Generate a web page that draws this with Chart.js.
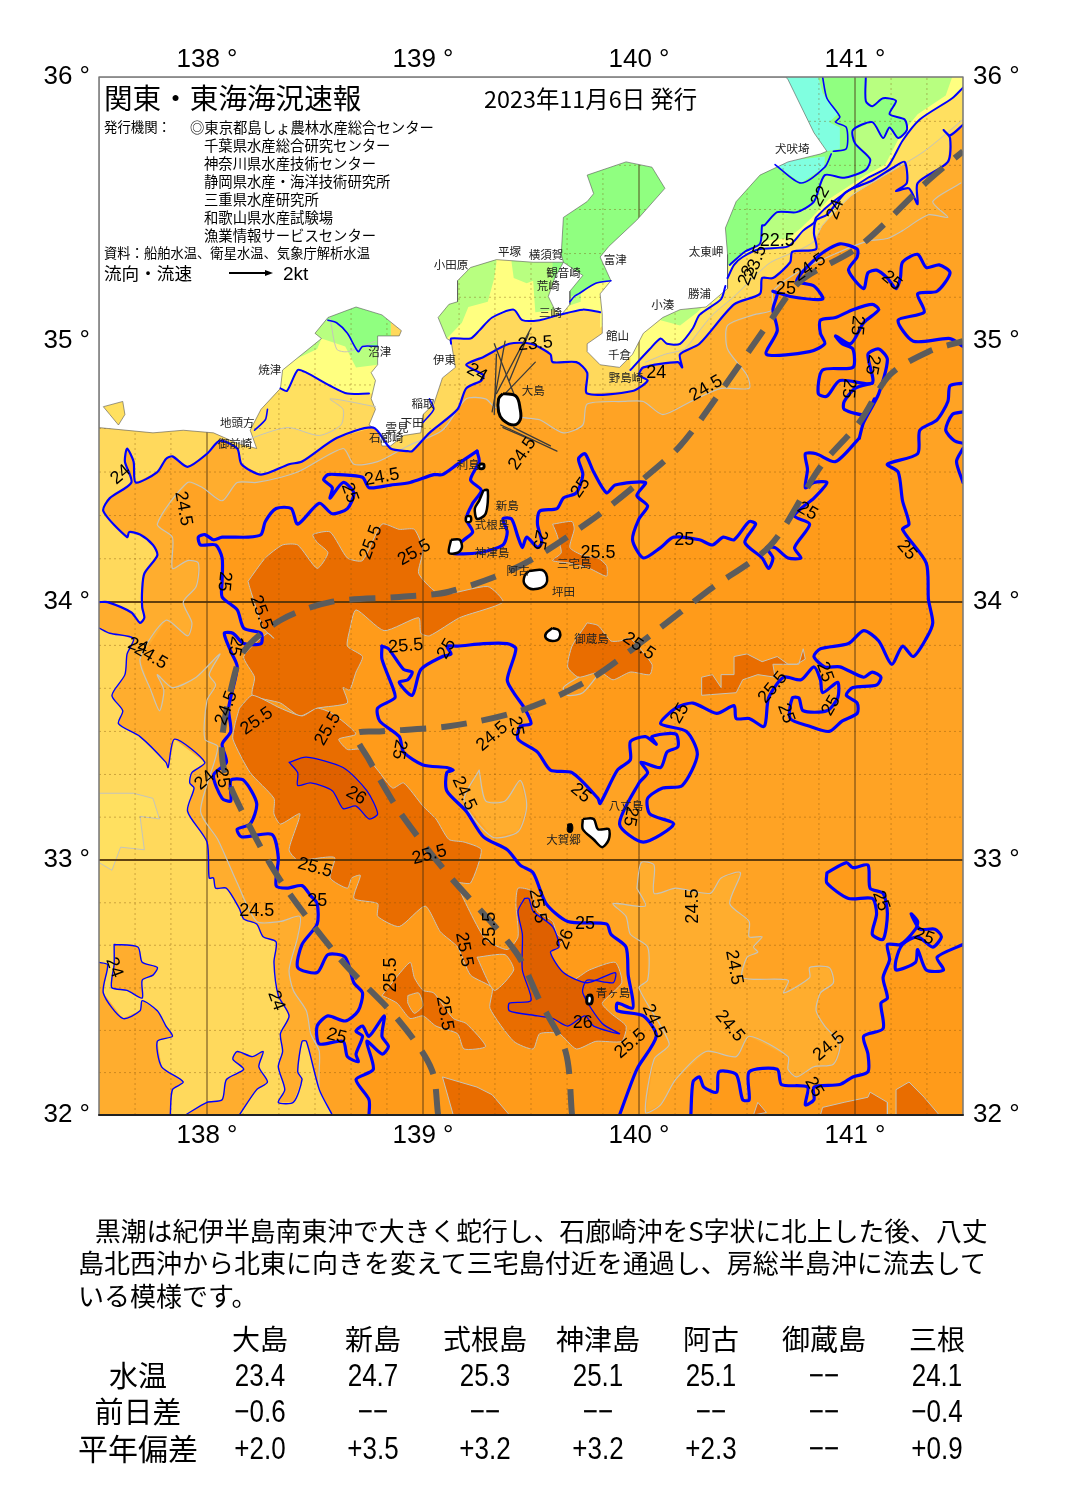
<!DOCTYPE html>
<html lang="ja">
<head>
<meta charset="utf-8">
<title>関東・東海海況速報</title>
<script src="https://cdn.jsdelivr.net/npm/chart.js@4/dist/chart.umd.js"></script>
<style>
  html, body { margin: 0; background: #fff; }
  #page { position: relative; width: 1065px; height: 1505px; overflow: hidden; font-family: "Noto Sans CJK JP", sans-serif; color: #000; }
  #chart { position: absolute; left: 0; top: 0; }
  .t { position: absolute; white-space: nowrap; line-height: 1; }
  .c { transform: translateX(-50%); }
  .n { font-family: "Liberation Sans", sans-serif; transform: translateX(-50%) scaleY(1.22); }
</style>
</head>
<body>
<div id="page">
  <canvas id="chart" width="1065" height="1505"></canvas>
  <div id="overlay"></div>
</div>
<script>
// axis ticks and graticule, degrees
const lonTicks = [138, 139, 140, 141]
const latTicks = [32, 33, 34, 35, 36]
const gridLonMajor = [138, 139, 140, 141]
const gridLatMajor = [33, 34]
const gridLonMinor = [137.667, 137.833, 138.167, 138.333, 138.5, 138.667, 138.833, 139.167, 139.333, 139.5, 139.667, 139.833, 140.167, 140.333, 140.5, 140.667, 140.833, 141.167, 141.333]
const gridLatMinor = [32.167, 32.333, 32.5, 32.667, 32.833, 33.167, 33.333, 33.5, 33.667, 33.833, 34.167, 34.333, 34.5, 34.667, 34.833, 35.167, 35.333, 35.5, 35.667, 35.833]

// coast, [lon, lat]
const landCoast = [[137.5,36],[140.68,36],[140.69,35.99],[140.81,35.79],[140.87,35.72],[140.84,35.71],[140.69,35.68],[140.56,35.63],[140.45,35.53],[140.40,35.43],[140.41,35.33],[140.41,35.20],[140.31,35.13],[140.19,35.12],[140.11,35.09],[140.02,35.03],[139.97,34.95],[139.91,34.90],[139.82,34.91],[139.76,34.96],[139.76,34.99],[139.83,35.03],[139.83,35.10],[139.82,35.18],[139.87,35.23],[139.82,35.32],[139.86,35.36],[139.99,35.46],[140.12,35.58],[140.06,35.66],[139.94,35.68],[139.76,35.63],[139.79,35.56],[139.76,35.53],[139.65,35.47],[139.64,35.33],[139.65,35.30],[139.74,35.25],[139.68,35.19],[139.68,35.14],[139.64,35.10],[139.61,35.12],[139.58,35.17],[139.61,35.24],[139.65,35.30],[139.51,35.30],[139.34,35.31],[139.22,35.28],[139.16,35.23],[139.16,35.15],[139.12,35.14],[139.07,35.09],[139.11,35.01],[139.13,35.00],[139.15,34.90],[139.09,34.86],[139.05,34.76],[139,34.72],[138.99,34.65],[138.91,34.64],[138.85,34.60],[138.81,34.60],[138.79,34.66],[138.75,34.68],[138.78,34.74],[138.76,34.78],[138.78,34.85],[138.76,34.88],[138.79,34.91],[138.79,35.02],[138.89,35.02],[138.90,35.04],[138.81,35.10],[138.69,35.13],[138.56,35.09],[138.50,35.03],[138.53,35.01],[138.44,34.95],[138.35,34.89],[138.34,34.82],[138.25,34.74],[138.20,34.66],[138.23,34.59],[138.14,34.61],[138.03,34.65],[137.89,34.66],[137.75,34.65],[137.5,34.67]]
const hamanaLake = [[137.52,34.75],[137.61,34.77],[137.62,34.72],[137.59,34.68],[137.55,34.72]]
const oshima = [[139.37,34.80],[139.43,34.79],[139.45,34.74],[139.45,34.70],[139.42,34.68],[139.37,34.70],[139.35,34.73],[139.35,34.78]]
const toshima = [[139.26,34.53],[139.28,34.53],[139.28,34.515],[139.26,34.515]]
const niijima = [[139.28,34.43],[139.30,34.43],[139.29,34.34],[139.25,34.32],[139.24,34.36],[139.26,34.39]]
const shikine = [[139.20,34.33],[139.22,34.33],[139.22,34.31],[139.20,34.31]]
const kozu = [[139.13,34.24],[139.17,34.24],[139.18,34.21],[139.16,34.19],[139.12,34.19]]
const miyake = [[139.49,34.12],[139.56,34.12],[139.57,34.07],[139.51,34.05],[139.47,34.07],[139.47,34.10]]
const mikura = [[139.60,33.90],[139.63,33.89],[139.63,33.86],[139.60,33.85],[139.57,33.86],[139.57,33.88]]
const hachijo = [[139.74,33.16],[139.79,33.16],[139.81,33.12],[139.86,33.12],[139.86,33.08],[139.83,33.05],[139.79,33.08],[139.74,33.12]]
const kojima = [[139.67,33.14],[139.69,33.14],[139.69,33.11],[139.67,33.11]]
const aogashima = [[139.76,32.47],[139.78,32.47],[139.78,32.44],[139.76,32.44]]

// 24 degree line
const edge24Top = [[137.5,34.0],[137.54,34.0],[137.65,33.96],[137.69,33.92],[137.71,33.94],[137.70,33.98],[137.70,34.05],[137.71,34.11],[137.77,34.18],[137.75,34.22],[137.69,34.26],[137.64,34.27],[137.63,34.25],[137.52,34.35],[137.55,34.40],[137.65,34.46],[137.62,34.54],[137.63,34.59],[137.66,34.54],[137.67,34.46],[137.77,34.50],[137.81,34.55],[137.84,34.56],[137.91,34.52],[138,34.57],[138.06,34.62],[138.14,34.59],[138.16,34.53],[138.25,34.49],[138.38,34.53],[138.44,34.54],[138.60,34.63],[138.77,34.67],[138.85,34.59],[138.93,34.58],[138.95,34.58],[139.03,34.65],[139.16,34.74],[139.20,34.82],[139.27,34.85],[139.28,34.87],[139.20,34.91],[139.28,34.94],[139.40,34.99],[139.50,34.99],[139.59,34.95],[139.60,34.92],[139.71,34.92],[139.76,34.88],[139.76,34.80],[139.97,34.81],[140.04,34.85],[140,34.87],[140.02,34.90],[140.18,34.92],[140.20,34.90],[140.19,34.95],[140.28,34.99],[140.44,35.14],[140.56,35.18],[140.57,35.24],[140.62,35.24],[140.70,35.30],[140.71,35.34],[140.82,35.35],[140.81,35.41],[140.82,35.46],[140.87,35.48],[140.95,35.56],[140.99,35.58],[141.08,35.61],[141.18,35.66],[141.23,35.68],[141.24,35.60],[141.19,35.57],[141.25,35.58],[141.29,35.52],[141.29,35.60],[141.43,35.68],[141.44,35.77],[141.41,35.80],[141.44,35.78],[141.5,35.82]]
const edge24West = [[137.5,33.90],[137.55,33.88],[137.66,33.86],[137.63,33.80],[137.62,33.72],[137.56,33.64],[137.61,33.58],[137.59,33.53],[137.69,33.48],[137.81,33.38],[137.82,33.36],[137.85,33.47],[137.99,33.38],[137.93,33.34],[137.92,33.30],[137.94,33.28],[137.91,33.19],[138,33.07],[138.01,32.93],[138.03,32.93],[138.04,32.89],[138.09,32.89],[138.15,32.81],[138.17,32.77],[138.23,32.75],[138.26,32.70],[138.32,32.68],[138.31,32.60],[138.33,32.47],[138.38,32.39],[138.34,32.32],[138.35,32.25],[138.33,32.19],[138.36,32.10],[138.33,32.05],[138.40,32.05],[138.44,32.14],[138.42,32.17],[138.44,32.29],[138.46,32.29],[138.52,32.10],[138.58,32]]
const edge24South = [[138.15,32],[138.23,32.10],[138.28,32.13],[138.24,32.19],[138.26,32.25],[138.21,32.23],[138.14,32.25],[138.12,32.22],[138.17,32.18],[138.09,32.14],[138.07,32.06],[138,32.05],[137.90,32]]
const edge24SouthWest = [[137.83,32],[137.84,32.10],[137.89,32.13],[137.79,32.19],[137.77,32.29],[137.84,32.31],[137.81,32.35],[137.77,32.41],[137.70,32.45],[137.69,32.41],[137.61,32.38],[137.52,32.48],[137.54,32.59],[137.5,32.60]]
const blob24 = [[137.57,32.67],[137.68,32.66],[137.70,32.60],[137.77,32.58],[137.75,32.55],[137.70,32.53],[137.70,32.46],[137.63,32.49],[137.56,32.50],[137.56,32.54],[137.57,32.59]]
const paleWest = [[137.5,33.26],[137.66,33.26],[137.75,33.24],[137.78,33.16],[137.69,33.17],[137.71,33.04],[137.60,33.05],[137.56,32.96],[137.5,32.99]]

// cold water in the bays
const suruga235 = [[138.14,34.61],[138.37,34.67],[138.52,34.64],[138.62,34.68],[138.63,34.74],[138.57,34.78],[138.78,34.75],[138.78,35.1],[138.3,35.1],[138.14,34.8]]
const suruga23 = [[138.29,34.82],[138.34,34.82],[138.37,34.81],[138.42,34.89],[138.46,34.88],[138.57,34.83],[138.65,34.80],[138.75,34.80],[138.82,34.80]]
const suruga225 = [[138.29,34.89],[138.35,34.89],[138.38,34.92],[138.51,34.97],[138.53,35.01],[138.64,34.98],[138.69,34.90],[138.79,34.91],[138.85,34.91]]
const suruga22 = [[138.56,35.08],[138.60,35.07],[138.65,35.03],[138.70,34.96],[138.72,34.98],[138.79,34.98],[138.85,34.98]]
const sagami23 = [[139.13,34.99],[139.13,35.01],[139.22,35.01],[139.26,35.04],[139.32,35.09],[139.42,35.12],[139.46,35.08],[139.54,35.08],[139.63,35.10],[139.74,35.12],[139.82,35.11],[139.82,35.05]]
const sagamiGreenWest = [[139.11,35.01],[139.18,35.07],[139.21,35.13],[139.30,35.15],[139.33,35.24],[139.34,35.30],[139.34,35.45],[139.05,35.45],[139.05,35.01]]
const sagamiGreenEast = [[139.41,35.30],[139.42,35.24],[139.48,35.22],[139.51,35.23],[139.52,35.11],[139.62,35.12],[139.73,35.15],[139.73,35.45],[139.41,35.45]]
const tokyoBay = [[139.68,35.17],[139.72,35.18],[139.80,35.22],[139.87,35.23],[140.2,35.23],[140.2,35.75],[139.6,35.75],[139.6,35.17]]
const bayLine = [[139.68,35.15],[139.70,35.17],[139.72,35.18],[139.80,35.22],[139.87,35.23]]
const boso235 = [[139.96,34.87],[140.03,34.92],[140.12,34.95],[140.21,34.97],[140.28,35.04],[140.34,35.10],[140.44,35.17],[140.54,35.25],[140.61,35.30],[140.75,35.35],[140.81,35.38],[140.85,35.44],[140.98,35.55],[141.14,35.63],[141.32,35.72],[141.5,35.84],[141.5,36],[140.4,36],[139.96,35.2]]
const boso23South = [[139.96,34.89],[140.05,34.97],[140.10,35.01],[140.13,34.99],[140.19,34.99],[140.25,35.05],[140.28,35.10],[140.38,35.16],[140.40,35.21]]
const boso23North = [[140.41,35.24],[140.44,35.29],[140.48,35.32],[140.56,35.35],[140.69,35.36],[140.76,35.42],[140.81,35.45],[140.82,35.47],[140.90,35.53],[141.06,35.62],[141.15,35.66],[141.22,35.76],[141.30,35.84],[141.45,35.92],[141.5,35.96]]
const bosoGreenBit = [[140.10,35.08],[140.19,35.06],[140.27,35.11],[140.36,35.19],[140.2,35.3],[140.05,35.2]]
const boso225 = [[140.44,35.33],[140.54,35.38],[140.69,35.39],[140.75,35.43],[140.80,35.47],[140.88,35.54],[141.05,35.63],[141.14,35.67],[141.21,35.78],[141.29,35.86],[141.42,35.93],[141.45,36],[140.4,36],[140.4,35.33]]
const boso22 = [[140.42,35.29],[140.49,35.34],[140.56,35.37],[140.57,35.44],[140.58,35.44],[140.64,35.49],[140.73,35.49],[140.81,35.53],[140.86,35.63],[140.95,35.62],[141.05,35.65],[141.07,35.69],[141,35.75],[140.99,35.80],[141.08,35.83],[141.13,35.77],[141.16,35.81],[141.20,35.77],[141.24,35.80],[141.23,35.84],[141.16,35.86],[141.19,35.91],[141.13,35.92],[141.08,35.89],[141.05,35.91],[141.05,36]]
const cyanNorth = [[140.68,36],[140.83,36],[140.85,35.94],[140.92,35.86],[140.88,35.83],[140.93,35.81],[140.93,35.73],[140.87,35.72],[140.81,35.79]]
const cyanSouth = [[140.63,35.67],[140.75,35.60],[140.86,35.66],[140.86,35.70],[140.64,35.68]]

// 24.5 degree gray line
const edge245 = [[141.49,35.60],[141.36,35.53],[141.43,35.47],[141.34,35.48],[141.22,35.42],[141.15,35.39],[141.06,35.38],[140.93,35.34],[140.75,35.27],[140.62,35.19],[140.62,35.12],[140.53,35.10],[140.41,35.06],[140.41,34.97],[140.50,34.87],[140.51,34.82],[140.38,34.82],[140.24,34.77],[140.11,34.72],[140.02,34.77],[139.93,34.77],[139.76,34.76],[139.74,34.68],[139.65,34.65],[139.54,34.70],[139.45,34.71],[139.33,34.75],[139.29,34.78],[139.20,34.78],[139.09,34.66],[138.93,34.60],[138.79,34.54],[138.68,34.53],[138.63,34.59],[138.42,34.50],[138.23,34.46],[138.14,34.46],[138.07,34.39],[137.98,34.44],[137.91,34.46],[137.77,34.30],[137.84,34.25],[137.84,34.13],[137.91,34.16],[137.96,34.15],[137.95,34.06],[137.89,34.0],[137.93,33.92],[137.91,33.87],[137.81,33.93],[137.69,33.78],[137.74,33.66],[137.78,33.58],[137.80,33.66],[137.77,33.72],[137.84,33.67],[137.95,33.71],[138.06,33.80],[138.01,33.72],[138.04,33.68],[138,33.62],[137.99,33.47],[138.05,33.44],[137.97,33.19],[138.05,33.08],[138.14,32.91],[138.23,32.76],[138.34,32.76],[138.43,32.78],[138.42,32.70],[138.38,32.57],[138.40,32.49],[138.46,32.41],[138.48,32.32],[138.52,32.25],[138.52,32.10],[138.58,32]]
const patch245 = [[139.99,32.89],[140.01,32.99],[140.07,32.98],[140.07,32.87],[140.17,32.89],[140.33,32.87],[140.38,32.93],[140.47,32.95],[140.42,32.83],[140.51,32.76],[140.51,32.70],[140.57,32.70],[140.53,32.66],[140.55,32.64],[140.50,32.62],[140.48,32.54],[140.69,32.53],[140.67,32.48],[140.79,32.54],[140.79,32.58],[140.88,32.58],[140.90,32.52],[140.84,32.48],[140.82,32.41],[140.86,32.35],[140.93,32.28],[140.90,32.20],[140.81,32.19],[140.73,32.15],[140.69,32.18],[140.69,32.23],[140.51,32.31],[140.45,32.23],[140.31,32.25],[140.17,32.14],[140.10,32.04],[140.03,32.01],[140.07,32.22],[140.14,32.28],[140,32.50],[140.04,32.53],[140.04,32.66],[139.96,32.71],[139.94,32.78],[139.88,32.83],[140.03,32.82]]
const patch245b = [[139.26,33.35],[139.29,33.23],[139.38,33.23],[139.45,33.31],[139.48,33.21],[139.44,33.11],[139.32,33.09],[139.19,33.23]]

// 25 degree lines
const line25West = [[139.25,34.58],[139.16,34.53],[139.09,34.49],[139.05,34.49],[138.94,34.46],[138.85,34.45],[138.75,34.44],[138.72,34.48],[138.61,34.49],[138.56,34.49],[138.54,34.47],[138.58,34.44],[138.57,34.40],[138.63,34.46],[138.68,34.42],[138.65,34.36],[138.58,34.34],[138.52,34.38],[138.42,34.30],[138.39,34.36],[138.32,34.36],[138.27,34.31],[138.25,34.26],[138.19,34.25],[138.07,34.25],[138.03,34.24],[137.99,34.26],[137.96,34.25],[137.97,34.22],[138.04,34.22],[138.07,34.17],[138.07,34.08],[138.07,34.02],[138.14,33.97],[138.17,33.90],[138.25,33.88],[138.25,33.84],[138.17,33.84],[138.12,33.88],[138.08,33.88],[138.11,33.81],[138.14,33.75],[138.10,33.59],[138.11,33.50],[138.07,33.45],[138.09,33.38],[138.03,33.33],[138.07,33.24],[138.11,33.23],[138.11,33.31],[138.17,33.31],[138.23,33.22],[138.20,33.14],[138.14,33.12],[138.16,33.09],[138.30,33.10],[138.33,33.01],[138.32,32.90],[138.37,32.89],[138.44,32.90],[138.48,32.86],[138.51,32.83],[138.51,32.75],[138.44,32.67],[138.42,32.58],[138.51,32.56],[138.56,32.63],[138.64,32.62],[138.68,32.52],[138.72,32.48],[138.70,32.41],[138.64,32.37],[138.56,32.39],[138.51,32.35],[138.52,32.28],[138.63,32.29],[138.65,32.23],[138.70,32.21],[138.69,32.24],[138.72,32.31],[138.69,32.33],[138.72,32.35],[138.75,32.31],[138.82,32.39],[138.81,32.31],[138.84,32.27],[138.81,32.24],[138.74,32.29],[138.77,32.18],[138.69,32.14],[138.75,32.06],[138.75,32]]
const line25Mid = [[138.81,33.83],[138.81,33.78],[138.86,33.67],[138.87,33.63],[138.79,33.59],[138.80,33.54],[138.89,33.48],[138.91,33.42],[139,33.37],[139.11,33.36],[139.14,33.35],[139.11,33.34],[139.11,33.27],[139.20,33.19],[139.28,33.09],[139.39,33.04],[139.45,32.98],[139.51,32.95],[139.57,32.83],[139.67,32.76],[139.85,32.75],[139.87,32.71],[139.94,32.66],[139.95,32.55],[139.97,32.46],[139.97,32.42],[139.90,32.44],[139.90,32.41],[140.02,32.39],[140.08,32.31],[139.99,32.18],[139.91,32]]
const line25South = [[138.81,33.83],[138.84,33.82],[138.91,33.74],[138.95,33.73],[138.93,33.70],[138.89,33.69],[138.95,33.64],[138.99,33.74],[139.09,33.79],[139.13,33.80],[139.11,33.83],[139.16,33.83],[139.28,33.84],[139.39,33.84],[139.43,33.82],[139.39,33.70],[139.42,33.65],[139.47,33.59],[139.50,33.53],[139.45,33.52],[139.44,33.47],[139.53,33.42],[139.59,33.35],[139.69,33.34],[139.81,33.24],[139.82,33.22],[139.90,33.35],[139.96,33.39],[139.96,33.46],[140.03,33.48],[140.08,33.45],[140.06,33.48],[140.17,33.49],[140.18,33.44],[140.13,33.42],[140.10,33.36],[140.01,33.38],[140.04,33.34],[140,33.30],[139.91,33.14],[140.02,33.07],[140.16,33.14],[140.05,33.18],[140.04,33.24],[140.11,33.28],[140.20,33.29],[140.27,33.41],[140.22,33.50],[140.10,33.53],[140.17,33.59],[140.25,33.61],[140.36,33.57],[140.44,33.60],[140.45,33.55],[140.51,33.55],[140.58,33.52],[140.60,33.63],[140.67,33.71],[140.75,33.70],[140.81,33.75],[140.84,33.70],[140.85,33.65],[140.92,33.69],[140.92,33.63],[140.87,33.58],[140.76,33.58],[140.74,33.63],[140.71,33.63],[140.70,33.55],[140.79,33.52],[140.88,33.50],[140.94,33.54],[141.01,33.57],[141.01,33.61],[140.96,33.64],[140.99,33.67],[141.10,33.68],[141.12,33.71],[141.08,33.73],[141.04,33.71],[140.93,33.75],[140.86,33.75],[140.81,33.79],[140.84,33.82],[140.97,33.84],[141.04,33.89],[141.11,33.85],[141.17,33.76],[141.22,33.83],[141.27,33.79],[141.33,33.86],[141.36,33.92],[141.34,34.01],[141.33,34.15],[141.22,34.28],[141.25,34.30],[141.22,34.39],[141.20,34.50],[141.15,34.53],[141.29,34.57],[141.30,34.66],[141.38,34.70],[141.43,34.77],[141.44,34.83],[141.5,34.84]]
const line25North = [[141.5,34.98],[141.44,35.01],[141.27,35.0],[141.20,35.08],[141.32,35.11],[141.29,35.18],[141.38,35.19],[141.44,35.26],[141.39,35.29],[141.33,35.28],[141.29,35.33],[141.22,35.30],[141.21,35.24],[141.19,35.20],[141.15,35.24],[141.10,35.27],[141.06,35.26],[141.04,35.20],[140.97,35.27],[141.01,35.32],[141.01,35.35],[140.93,35.37],[140.84,35.33],[140.73,35.23],[140.81,35.21],[140.85,35.16],[140.70,35.17],[140.62,35.19],[140.64,35.18],[140.62,35.12],[140.64,35.04],[140.59,34.95],[140.79,34.96],[140.86,34.99],[140.84,35.03],[140.84,35.08],[140.91,35.09],[140.99,35.12],[141.08,35.14],[141.11,35.12],[141.04,35.07],[140.98,34.99],[140.91,35.02],[140.94,34.99],[140.99,34.97],[140.99,34.90],[140.85,34.89],[140.83,34.80],[140.87,34.79],[140.93,34.85],[141.08,34.84],[141.06,34.95],[141.11,34.97],[141.15,34.93],[141.11,34.80],[141.04,34.69],[141.02,34.63]]
const line25Izu = [[139.25,34.58],[139.26,34.54],[139.22,34.47],[139.27,34.43],[139.23,34.38],[139.20,34.32],[139.23,34.27],[139.19,34.24],[139.13,34.19],[139.26,34.19],[139.37,34.22],[139.39,34.27],[139.37,34.32],[139.41,34.32],[139.44,34.25],[139.46,34.21],[139.48,34.25],[139.53,34.21],[139.55,34.23],[139.53,34.30],[139.54,34.35],[139.62,34.36],[139.65,34.40],[139.71,34.42],[139.74,34.49],[139.72,34.55],[139.75,34.57],[139.79,34.50],[139.85,34.42],[139.89,34.45],[140.03,34.46],[139.99,34.41],[140.04,34.37],[140,34.32],[139.97,34.24],[140.02,34.17],[140.10,34.21],[140.16,34.25],[140.28,34.24],[140.34,34.22],[140.39,34.25],[140.44,34.24],[140.51,34.31],[140.54,34.30],[140.49,34.23],[140.57,34.17],[140.60,34.13],[140.62,34.17],[140.59,34.21],[140.63,34.21],[140.69,34.17],[140.75,34.17],[140.72,34.21],[140.79,34.30],[140.72,34.33],[140.75,34.36],[140.81,34.40],[140.87,34.46],[140.81,34.46],[140.77,34.44],[140.78,34.51],[140.77,34.57],[140.82,34.57],[140.91,34.54],[141.02,34.63]]
const line25SouthEast = [[140.24,32],[140.25,32.13],[140.28,32.15],[140.30,32.11],[140.36,32.09],[140.37,32.17],[140.45,32.16],[140.48,32.06],[140.51,32.06],[140.51,32.17],[140.64,32.18],[140.66,32.12],[140.78,32.11],[140.77,32.04],[140.81,32.06],[140.81,32.11],[140.93,32.12],[140.99,32.15],[141.06,32.17],[141.06,32.24],[141.04,32.31],[141.13,32.34],[141.12,32.44],[141.15,32.46],[141.13,32.54],[141.16,32.61],[141.15,32.67],[141.21,32.67],[141.28,32.73],[141.29,32.76],[141.26,32.79],[141.30,32.73],[141.37,32.73],[141.40,32.70],[141.36,32.66],[141.29,32.70],[141.22,32.67],[141.19,32.61],[141.19,32.57],[141.28,32.60],[141.29,32.65],[141.33,32.57],[141.41,32.57],[141.38,32.62],[141.5,32.67]]
const loop25East = [[140.87,32.95],[140.96,32.99],[140.99,32.97],[141.06,32.98],[141.07,32.89],[141.13,32.87],[141.15,32.79],[141.13,32.69],[141.08,32.71],[141.10,32.79],[141.08,32.85],[140.97,32.85],[140.87,32.91]]
const loop25Hook = [[141.08,34.84],[141,34.82],[140.95,34.77],[140.95,34.74],[141.05,34.72],[141.09,34.78]]
const pocket25a = [[141.5,34.73],[141.45,34.72],[141.42,34.66],[141.46,34.62],[141.5,34.61]]
const pocket25b = [[141.5,34.59],[141.47,34.54],[141.5,34.46]]

// 25.5 degree areas
const area255West = [[138.19,34.08],[138.27,34.17],[138.35,34.22],[138.42,34.22],[138.51,34.13],[138.56,34.19],[138.51,34.23],[138.49,34.26],[138.57,34.27],[138.65,34.17],[138.72,34.16],[138.81,34.30],[138.89,34.28],[138.96,34.28],[139,34.20],[138.98,34.11],[139.08,34.03],[139.30,34.06],[139.37,34],[139.17,33.94],[139.03,33.87],[138.99,33.88],[138.98,33.94],[138.82,33.89],[138.69,33.97],[138.66,33.89],[138.65,33.83],[138.72,33.79],[138.69,33.73],[138.66,33.66],[138.63,33.67],[138.65,33.61],[138.51,33.59],[138.43,33.56],[138.34,33.61],[138.21,33.64],[138.22,33.71],[138.17,33.79],[138.28,33.88],[138.31,33.86],[138.26,33.90],[138.20,34.05]]
const area255South = [[138.15,33.59],[138.21,33.64],[138.34,33.59],[138.44,33.56],[138.51,33.59],[138.58,33.57],[138.69,33.49],[138.61,33.47],[138.65,33.43],[138.71,33.43],[138.79,33.35],[138.86,33.28],[138.91,33.30],[139,33.21],[139.06,33.16],[139.12,33.08],[139.19,33.07],[139.27,33.04],[139.22,32.91],[139.16,32.91],[139.21,32.81],[139.29,32.69],[139.39,32.65],[139.44,32.70],[139.43,32.83],[139.44,32.89],[139.50,32.88],[139.53,32.80],[139.60,32.76],[139.62,32.71],[139.65,32.69],[139.59,32.64],[139.63,32.57],[139.69,32.53],[139.77,32.57],[139.89,32.60],[139.92,32.52],[139.83,32.44],[139.87,32.40],[139.94,32.35],[139.92,32.29],[139.80,32.29],[139.71,32.26],[139.63,32.32],[139.54,32.32],[139.51,32.26],[139.42,32.29],[139.31,32.42],[139.32,32.50],[139.22,32.55],[139.16,32.66],[139.08,32.72],[139.01,32.82],[138.89,32.74],[138.79,32.78],[138.79,32.83],[138.68,32.85],[138.71,32.94],[138.67,32.93],[138.65,32.89],[138.57,32.93],[138.59,33.01],[138.42,33],[138.38,33.04],[138.43,33.18],[138.34,33.14],[138.31,33.18],[138.31,33.24],[138.20,33.34],[138.12,33.47],[138.13,33.53]]
const hole255a = [[139.25,32.62],[139.33,32.49],[139.42,32.57],[139.38,32.63]]
const area255Lower = [[138.81,32.47],[138.94,32.60],[138.96,32.54],[139,32.49],[139.05,32.48],[139.14,32.38],[139.20,32.36],[139.29,32.27],[139.19,32.26],[139.16,32.32],[139.06,32.35],[139,32.39],[138.94,32.38],[138.88,32.44]]
const hole255b = [[138.93,32.47],[138.98,32.48],[139,32.43],[138.96,32.40],[138.93,32.44]]
const area255Bottom = [[139.09,32.15],[139.17,32.13],[139.25,32.11],[139.32,32.08],[139.40,32],[139.14,32]]
const area255Miyake = [[139.60,34.30],[139.69,34.31],[139.70,34.28],[139.68,34.21],[139.74,34.18],[139.81,34.17],[139.85,34.14],[139.85,34.10],[139.77,34.13],[139.68,34.15],[139.60,34.16],[139.64,34.19],[139.62,34.26]]
const area255Mikura = [[139.76,33.92],[139.81,33.91],[139.87,33.85],[139.91,33.85],[139.96,33.86],[140.06,33.76],[140.05,33.72],[139.96,33.73],[139.88,33.70],[139.82,33.73],[139.72,33.71],[139.67,33.75],[139.69,33.83]]
const tail255Mikura = [[139.82,33.73],[139.74,33.65],[139.67,33.64],[139.65,33.67],[139.72,33.71]]
const area255East = [[140.29,33.71],[140.34,33.72],[140.38,33.67],[140.38,33.72],[140.44,33.72],[140.44,33.79],[140.50,33.80],[140.57,33.77],[140.64,33.79],[140.69,33.76],[140.74,33.76],[140.76,33.82],[140.77,33.78],[140.73,33.76],[140.62,33.76],[140.63,33.71],[140.55,33.72],[140.48,33.70],[140.45,33.65],[140.29,33.64]]
const area255EdgeA = [[140.53,32],[140.55,32.05],[140.59,32.01]]
const area255EdgeB = [[140.84,32],[140.85,32.03],[140.95,32.05],[141.06,32.07],[141.07,32.09],[141.15,32.05],[141.15,32]]
const area255EdgeC = [[141.19,32.10],[141.25,32.13],[141.32,32.07],[141.39,32],[141.19,32]]

// 26 degree areas
const area26North = [[138.38,33.38],[138.46,33.40],[138.63,33.36],[138.74,33.27],[138.79,33.18],[138.75,33.16],[138.69,33.21],[138.63,33.20],[138.58,33.27],[138.48,33.30],[138.42,33.29],[138.42,33.34]]
const area26South = [[139.47,32.85],[139.44,32.80],[139.46,32.71],[139.46,32.57],[139.50,32.45],[139.40,32.44],[139.40,32.41],[139.53,32.39],[139.60,32.38],[139.67,32.35],[139.75,32.39],[139.79,32.35],[139.91,32.32],[139.83,32.36],[139.74,32.48],[139.76,32.53],[139.88,32.52],[139.89,32.56],[139.76,32.52],[139.65,32.56],[139.59,32.64],[139.63,32.66],[139.60,32.74],[139.51,32.80],[139.49,32.85]]

// Kuroshio axis
const kuroshioEast = [[139.69,32],[139.66,32.25],[139.54,32.45],[139.43,32.64],[139.10,32.96],[138.89,33.19],[138.75,33.39],[138.69,33.49],[138.80,33.50],[139.12,33.52],[139.45,33.58],[139.77,33.70],[140.05,33.87],[140.33,34.05],[140.61,34.22],[140.84,34.52],[141.02,34.69],[141.16,34.87],[141.34,34.96],[141.5,35]]
const kuroshioWest = [[139.07,32],[139.04,32.18],[138.89,32.37],[138.62,32.61],[138.34,32.92],[138.18,33.16],[138.08,33.35],[138.07,33.47],[138.11,33.66],[138.17,33.81],[138.34,33.93],[138.57,34],[138.89,34.02],[139.12,34.04],[139.45,34.14],[139.77,34.31],[140,34.46],[140.19,34.60],[140.38,34.81],[140.61,35.08],[140.75,35.23],[141.02,35.36],[141.34,35.61],[141.5,35.72]]

// current arrows around Oshima
const currentArrows = [
  [[139.33,34.99],[139.42,34.80]], [[139.32,34.73],[139.38,35]], [[139.33,34.72],[139.34,34.95]],
  [[139.34,34.80],[139.50,35.05]], [[139.38,34.80],[139.52,34.92]], [[139.36,34.68],[139.62,34.58]],
  [[139.42,34.67],[139.59,34.60]], [[139.37,34.67],[139.51,34.62]], [[139.40,34.85],[139.49,35.03]]
]

// contour labels: text, lon, lat, angle
const contourLabels = [
  ["23.5",139.52,34.99,-5],["24",139.25,34.88,30],["24.5",139.46,34.57,-55],["24",140.08,34.88,0],["24.5",140.31,34.82,-30],
  ["24.5",140.79,35.28,-35],["25",140.68,35.20,0],["22.5",140.64,35.38,0],["23",140.50,35.25,-70],["23.5",140.54,35.30,-70],
  ["22",140.84,35.55,-60],["24",140.91,35.50,-70],["25",141.17,35.23,40],["25",141.01,35.06,95],["25",141.08,34.91,100],["25",140.97,34.82,95],
  ["24",137.60,34.49,-40],["24.5",137.89,34.36,80],["25",138.08,34.08,95],["25.5",138.25,33.96,70],["25",138.66,34.42,70],["24.5",138.81,34.48,-10],
  ["25.5",138.76,34.23,-70],["25.5",138.96,34.19,-30],["25",138.13,33.83,100],["24",137.68,33.83,20],["24.5",137.74,33.79,30],["24.5",138.09,33.59,-70],
  ["25.5",138.23,33.54,-35],["25.5",138.56,33.51,-60],["25",138.89,33.43,100],["25.5",138.92,33.83,-5],["25",139.11,33.82,-60],["24.5",139.32,33.48,-40],
  ["25",139.43,33.52,80],["24.5",139.19,33.26,65],["26",138.69,33.25,30],["25.5",139.03,33.02,-15],["25.5",138.50,32.97,15],["25",138.51,32.84,0],
  ["24.5",138.23,32.80,0],["24",137.57,32.58,70],["24",138.32,32.45,70],["25",138.60,32.31,15],["25.5",138.85,32.55,-90],["25.5",139.10,32.40,80],
  ["25.5",139.19,32.65,80],["25.5",139.31,32.73,-90],["25.5",139.53,32.82,80],["26",139.66,32.69,-70],["25",139.75,32.75,0],["26",139.74,32.36,0],
  ["25.5",139.96,32.28,-40],["24.5",140.07,32.37,65],["24.5",140.25,32.82,-90],["24.5",140.44,32.58,80],["24.5",140.42,32.35,50],["24.5",140.88,32.27,-40],
  ["25",140.81,32.11,60],["25",141.12,32.84,70],["25",141.32,32.70,20],["25",139.73,33.26,40],["25",139.96,33.17,100],["25",139.73,34.44,-55],
  ["25",139.54,34.24,100],["25.5",139.81,34.19,0],["25",140.21,34.24,0],["25",140.78,34.35,30],["25",141.24,34.20,50],["25.5",140,33.83,35],
  ["25.5",140.62,33.67,-50],["25",140.86,33.73,70],["25",140.68,33.57,70],["25",140.89,33.60,-60],["25",140.19,33.57,-60],["24",137.99,33.31,-40],["25",138.07,33.32,80]
]

// place names: text, lon, lat
const placeNames = [
  ["犬吠埼",140.71,35.73],["太東岬",140.31,35.34],["勝浦",140.28,35.18],["小湊",140.11,35.14],["館山",139.90,35.02],["千倉",139.91,34.95],["野島崎",139.94,34.86],
  ["富津",139.89,35.31],["横須賀",139.57,35.33],["観音崎",139.65,35.26],["荒崎",139.58,35.21],["三崎",139.59,35.11],["平塚",139.40,35.34],["小田原",139.13,35.29],
  ["沼津",138.80,34.96],["伊東",139.10,34.93],["稲取",139,34.76],["下田",138.95,34.69],["雲見",138.88,34.67],["石廊崎",138.83,34.63],["地頭方",138.14,34.69],
  ["御前崎",138.13,34.61],["焼津",138.29,34.89],["大島",139.51,34.81],["利島",139.21,34.53],["新島",139.39,34.37],["式根島",139.32,34.30],["神津島",139.32,34.19],
  ["阿古",139.44,34.12],["三宅島",139.70,34.15],["坪田",139.65,34.04],["御蔵島",139.78,33.86],["八丈島",139.94,33.21],["大賀郷",139.65,33.08],["青ヶ島",139.88,32.48]
]

// table under the map
const stationNames = ["大島", "新島", "式根島", "神津島", "阿古", "御蔵島", "三根"]
const rowNames = ["水温", "前日差", "平年偏差"]
const waterTemp = ["23.4", "24.7", "25.3", "25.1", "25.1", "−−", "24.1"]
const dayDiff = ["−0.6", "−−", "−−", "−−", "−−", "−−", "−0.4"]
const normalDiff = ["+2.0", "+3.5", "+3.2", "+3.2", "+2.3", "−−", "+0.9"]
const stationX = [260, 373, 485, 598, 711, 824, 937]
const rowY = [1375, 1411, 1448]

const issuers = ["千葉県水産総合研究センター", "神奈川県水産技術センター", "静岡県水産・海洋技術研究所", "三重県水産研究所", "和歌山県水産試験場", "漁業情報サービスセンター"]
const bodyLines = ["黒潮は紀伊半島南東沖で大きく蛇行し、石廊崎沖をS字状に北上した後、八丈", "島北西沖から北東に向きを変えて三宅島付近を通過し、房総半島沖に流去して", "いる模様です。"]

const colSea = "#FFA324", colPale = "#FFAD2E", colWarm = "#FF9B1A", colDark = "#E96D00", colHot = "#DF6000"
const colCold = "#FFD95C", colCold2 = "#FFE060", colYellow = "#FFFF80", colLight = "#B8FF80", colGreen = "#90FF80", colCyan = "#80FFE0"
const blue = "#0000FF", gray = "#C4C4BC"

const MAX_LAT = 36, MIN_LAT = 32, MIN_LON = 137.5, MAX_LON = 141.5
const merc = lat => Math.log(Math.tan(Math.PI / 4 + lat * Math.PI / 360))

// latitude axis of the Mercator map
class MercatorScale extends Chart.LinearScale {
  getPixelForValue(value) {
    const a = merc(this.min), b = merc(this.max)
    return this.bottom - (merc(value) - a) / (b - a) * (this.bottom - this.top)
  }
  getValueForPixel(pixel) {
    const a = merc(this.min), b = merc(this.max)
    const m = a + (this.bottom - pixel) / (this.bottom - this.top) * (b - a)
    return (Math.atan(Math.exp(m)) - Math.PI / 4) * 360 / Math.PI
  }
}
MercatorScale.id = "mercator"
MercatorScale.defaults = Chart.LinearScale.defaults
Chart.register(MercatorScale)

const toPts = arr => arr.map(([x, y]) => ({ x, y }))
const rev = arr => arr.slice().reverse()

const layers = []
function area(points, color, stroke, width, tension) {
  const closed = stroke ? points.concat([points[0]]) : points
  layers.push({ data: toPts(closed), fill: "shape", backgroundColor: color, borderColor: stroke || "rgba(0,0,0,0)", borderWidth: stroke ? (width || 1) : 0, pointRadius: 0, tension: tension || 0 })
}
function line(points, color, width, extra) {
  layers.push(Object.assign({ data: toPts(points), fill: false, borderColor: color, borderWidth: width, pointRadius: 0, tension: 0.25, borderJoinStyle: "round", borderCapStyle: "round" }, extra || {}))
}

// sea colours, warm side
area([[MIN_LON, MIN_LAT], [MAX_LON, MIN_LAT], [MAX_LON, MAX_LAT], [MIN_LON, MAX_LAT]], colSea)
area(edge245.concat([[137.5, 32], [137.5, 36], [141.5, 36], [141.5, 35.6]]), colPale)
area(patch245, colPale)
area(patch245b, colPale)
area(line25West.concat(rev(line25Mid), line25South, line25North, rev(line25Izu)), colWarm)
area(line25SouthEast.concat([[141.5, 32]]), colWarm)
area(loop25East, colWarm)
area(pocket25a, colWarm)
area(pocket25b, colWarm)
area(area255West, colDark, gray, 1, 0.2)
area(area255South, colDark, gray, 1, 0.2)
area(hole255a, colWarm, gray, 1, 0.2)
area(area255Lower, colDark, gray, 1, 0.2)
area(hole255b, colWarm, gray, 1, 0.2)
area(area255Bottom, colDark, gray)
area(area255Miyake, colDark, gray, 1, 0.2)
area(area255Mikura, colDark, gray, 1, 0.2)
area(area255East, colDark, gray)
area(area255EdgeA, colDark, gray)
area(area255EdgeB, colDark, gray)
area(area255EdgeC, colDark, gray)
area(area26North, colHot, null, 0, 0.25)
area(area26South, colHot, null, 0, 0.25)

// sea colours, cold side
area(edge24Top.concat([[141.5, 36], [137.5, 36]]), colCold)
area(edge24West.concat(edge24South, edge24SouthWest), colCold)
area(blob24, colPale, null, 0, 0.25)
area(paleWest, colCold2, gray)
area(suruga235, colCold2)
area(suruga23.concat([[138.82, 35.2], [138.29, 35.2]]), colYellow)
area(suruga225.concat([[138.85, 35.2], [138.29, 35.2]]), colLight)
area(suruga22.concat([[138.85, 35.2], [138.5, 35.2]]), colGreen)
area(sagami23.concat([[139.9, 35.11], [139.9, 35.4], [139.1, 35.4], [139.1, 35]]), colYellow)
area(sagamiGreenWest, colLight)
area(sagamiGreenEast, colLight)
area(boso235, colCold2)
area(boso23South.concat(boso23North, [[141.5, 36], [140.4, 36], [139.96, 35.2]]), colYellow)
area(bosoGreenBit, colLight)
area(boso225, colLight)
area(boso22.concat([[140.4, 36], [140.4, 35.29]]), colGreen)
area(cyanNorth, colCyan)
area(cyanSouth, colCyan)
area(tokyoBay, colGreen)

// graticule sits on the water, under the land
const gridMinor = { borderDash: [2, 3], tension: 0, borderCapStyle: "butt" }
gridLonMinor.forEach(v => line([[v, MIN_LAT], [v, MAX_LAT]], "rgba(120,75,10,0.38)", 1, gridMinor))
gridLatMinor.forEach(v => line([[MIN_LON, v], [MAX_LON, v]], "rgba(120,75,10,0.38)", 1, gridMinor))
gridLonMajor.forEach(v => line([[v, MIN_LAT], [v, MAX_LAT]], "rgba(70,45,15,0.85)", 1, { tension: 0 }))
gridLatMajor.forEach(v => line([[MIN_LON, v], [MAX_LON, v]], "rgba(80,50,10,0.9)", 2, { tension: 0 }))

area(landCoast, "#FFFFFF", "#555555", 0.6)
area(hamanaLake, colCold2, "#555555", 0.6)

// gray half degree lines
line(edge245, gray, 1.2)
line(patch245.concat([patch245[0]]), gray, 1.2)
line(patch245b.concat([patch245b[0]]), gray, 1.2)
line(tail255Mikura, gray, 1.2)
line(suruga235.slice(0, 7), gray, 1)
line([[138.57,35.09],[138.60,34.97],[138.65,34.96],[138.78,35.0]], gray, 1)
line(boso235.slice(1, 16), gray, 1)

// blue lines
line(edge24Top, blue, 2.2)
line(edge24West, blue, 1.4)
line(edge24South, blue, 1.4)
line(edge24SouthWest, blue, 1.4)
line(blob24.concat([blob24[0]]), blue, 1.4)
line(suruga23.slice(1, 8), blue, 2)
line(suruga22.slice(0, 6), blue, 1.6)
line([[138.22,34.66],[138.27,34.70],[138.28,34.74]], blue, 1.6)
line([[139,34.69],[139.05,34.74],[139.03,34.78]], blue, 1.6)
line(sagami23.slice(0, 11), blue, 2)
line(bayLine, blue, 1.6)
line(boso23South, blue, 2)
line(boso23North, blue, 2)
line(boso22, blue, 2)
line([[140.63,35.67],[140.75,35.60],[140.86,35.66],[140.89,35.71]], blue, 1.6)
line([[140.85,36],[140.87,35.92],[140.93,35.85],[140.91,35.83],[140.96,35.81],[140.96,35.73],[140.90,35.72]], blue, 1.6)
line(area26North.concat([area26North[0]]), blue, 1.3)
line(area26South.concat([area26South[0]]), blue, 1.3)
line(line25West, blue, 3.2)
line(line25Mid, blue, 3.2)
line(line25South, blue, 3.2)
line(line25North, blue, 3.2)
line(line25Izu, blue, 3.2)
line(line25SouthEast, blue, 3.2)
line(loop25East.concat([loop25East[0]]), blue, 3.2)
line(loop25Hook, blue, 3.2)
line(pocket25a, blue, 3.2)
line(pocket25b, blue, 3.2)

// Kuroshio axis
line(kuroshioEast, "#5C5C5C", 6, { borderDash: [26, 15], borderCapStyle: "butt", tension: 0.3 })
line(kuroshioWest, "#5C5C5C", 6, { borderDash: [26, 15], borderCapStyle: "butt", tension: 0.3 })

currentArrows.forEach(a => line(a, "#3A3A3A", 1.3, { tension: 0 }))

area(oshima, "#FFFFFF", "#000000", 3, 0.4)
area(toshima, "#FFFFFF", "#000000", 3, 0.4)
area(niijima, "#FFFFFF", "#000000", 2.5, 0.3)
area(shikine, "#FFFFFF", "#000000", 2.5, 0.4)
area(kozu, "#FFFFFF", "#000000", 2.5, 0.3)
area(miyake, "#FFFFFF", "#000000", 2.5, 0.4)
area(mikura, "#FFFFFF", "#000000", 2.5, 0.4)
area(hachijo, "#FFFFFF", "#000000", 2.5, 0.3)
area(kojima, "#000000", "#000000", 1, 0.4)
area(aogashima, "#FFFFFF", "#000000", 3, 0.4)

// frame
line([[MIN_LON, MIN_LAT], [MIN_LON, MAX_LAT], [MAX_LON, MAX_LAT], [MAX_LON, MIN_LAT]], "#777777", 1.5, { tension: 0, clip: 3 })
line([[MIN_LON, MIN_LAT], [MAX_LON, MIN_LAT]], "#222222", 2, { tension: 0, clip: 3 })

const mapText = {
  id: "mapText",
  afterDatasetsDraw(chart) {
    const { ctx, scales } = chart
    ctx.save()
    ctx.textAlign = "center"
    ctx.textBaseline = "middle"
    ctx.fillStyle = "#222"
    ctx.font = '11.5px "Noto Sans CJK JP"'
    placeNames.forEach(([name, lon, lat]) => {
      ctx.fillText(name, scales.x.getPixelForValue(lon), scales.y.getPixelForValue(lat))
    })
    ctx.fillStyle = "#000"
    ctx.font = '18px "Liberation Sans"'
    contourLabels.forEach(([text, lon, lat, angle]) => {
      ctx.save()
      ctx.translate(scales.x.getPixelForValue(lon), scales.y.getPixelForValue(lat))
      ctx.rotate(angle * Math.PI / 180)
      ctx.fillText(text, 0, 0)
      ctx.restore()
    })
    ctx.restore()
  }
}

const tickFont = { family: "Liberation Sans", size: 26 }
const tickLabel = v => v + " °"
const lonAxis = (position, size, pad) => ({
  type: "linear", position, axis: "x", min: MIN_LON, max: MAX_LON,
  grid: { display: false }, border: { display: false },
  ticks: { autoSkip: false, maxRotation: 0, color: "#000", font: tickFont, padding: pad, callback: tickLabel },
  afterBuildTicks: s => { s.ticks = lonTicks.map(value => ({ value })) },
  afterFit: s => { s.height = size }
})
const latAxis = (position, size, pad) => ({
  type: "mercator", position, axis: "y", min: MIN_LAT, max: MAX_LAT,
  grid: { display: false }, border: { display: false },
  ticks: { autoSkip: false, color: "#000", font: tickFont, padding: pad, callback: tickLabel },
  afterBuildTicks: s => { s.ticks = latTicks.map(value => ({ value })) },
  afterFit: s => { s.width = size }
})

new Chart(document.getElementById("chart"), {
  type: "line",
  data: { datasets: layers.reverse() },
  plugins: [mapText],
  options: {
    responsive: false,
    animation: false,
    devicePixelRatio: 1,
    layout: { padding: 0 },
    plugins: { legend: { display: false }, tooltip: { enabled: false } },
    events: [],
    scales: {
      x: lonAxis("bottom", 390, -3),
      xTop: lonAxis("top", 77, -6),
      y: latAxis("left", 99, 1),
      yRight: latAxis("right", 102, 2)
    }
  }
})

// text blocks over and under the map
const overlay = document.getElementById("overlay")
function addText(text, x, y, size, cls) {
  const el = document.createElement("div")
  el.className = "t " + (cls || "")
  el.textContent = text
  el.style.left = x + "px"
  el.style.top = (y - size / 2) + "px"
  el.style.fontSize = size + "px"
  overlay.appendChild(el)
  return el
}
addText("関東・東海海況速報", 104, 97, 28.6)
addText("2023年11月6日 発行", 484, 99, 23.4)
addText("発行機関：", 104, 127, 13.4)
addText("◎東京都島しょ農林水産総合センター", 190, 127, 14.35)
issuers.forEach((name, i) => addText(name, 204, 145 + i * 18, 14.35))
addText("資料：船舶水温、衛星水温、気象庁解析水温", 104, 253, 13.3)
addText("流向・流速", 104, 273, 17.6)
addText("2kt", 283, 273, 19).style.fontFamily = "Liberation Sans"
const legendLine = document.createElement("div")
legendLine.style.cssText = "position:absolute;left:229px;top:272px;width:38px;height:1.5px;background:#000"
overlay.appendChild(legendLine)
const legendHead = document.createElement("div")
legendHead.style.cssText = "position:absolute;left:265px;top:269.5px;border-left:8px solid #000;border-top:3px solid transparent;border-bottom:3px solid transparent"
overlay.appendChild(legendHead)

addText(bodyLines[0], 95, 1230, 25.8)
addText(bodyLines[1], 78, 1262, 26)
addText(bodyLines[2], 78, 1295, 26)
stationNames.forEach((name, i) => addText(name, stationX[i], 1338, 28, "c"))
rowNames.forEach((name, i) => addText(name, 138, rowY[i] - 1, i === 2 ? 30 : 29, "c"))
;[waterTemp, dayDiff, normalDiff].forEach((row, r) => {
  row.forEach((value, i) => addText(value, stationX[i], rowY[r], 26, "n"))
})
</script>
</body>
</html>
